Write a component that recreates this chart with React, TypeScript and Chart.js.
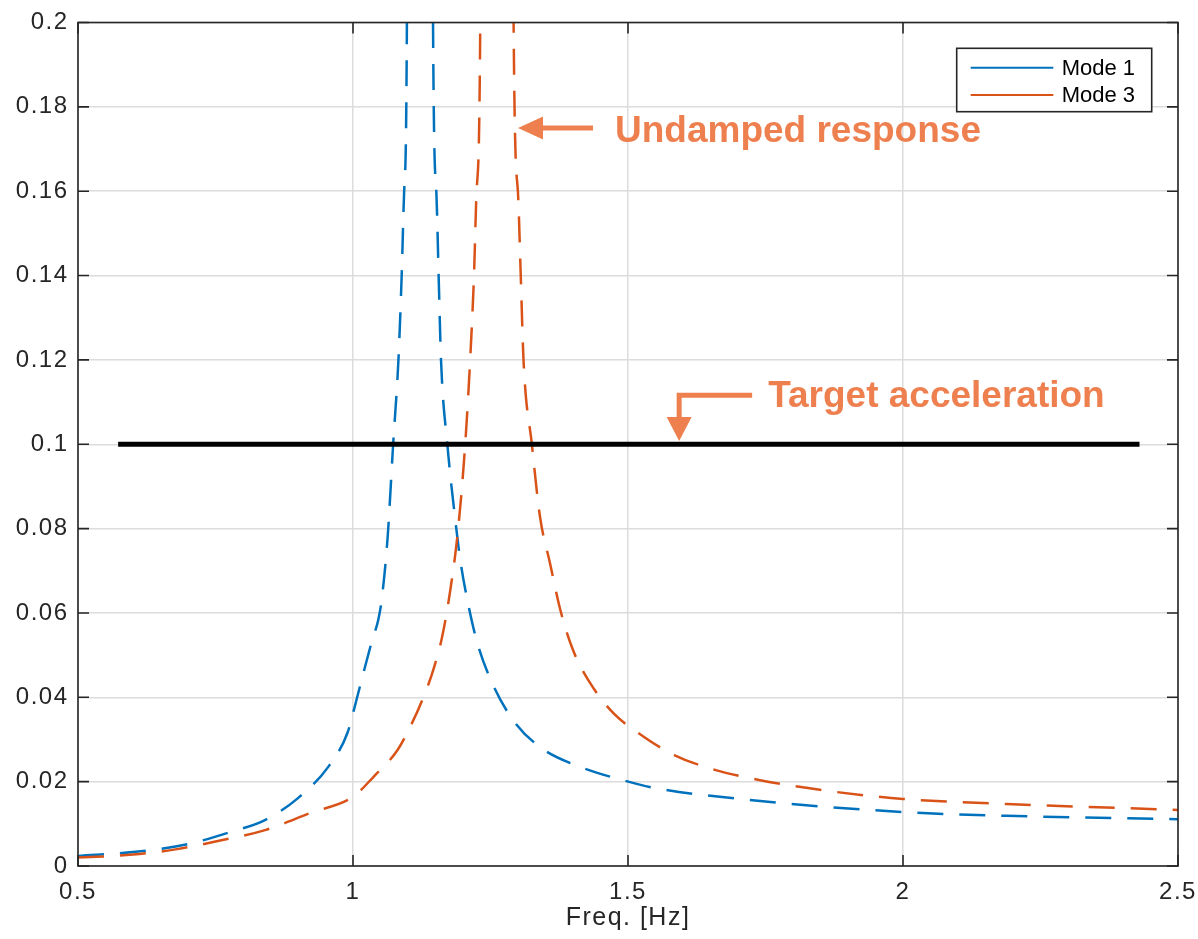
import React, { useEffect, useRef } from 'react';
import { Chart, registerables } from 'chart.js';

Chart.register(...registerables);

// ---- data ----
const freqMode1 = [0.5, 0.6, 0.7, 0.778, 0.84, 0.9, 0.955, 0.99, 1.005, 1.017, 1.035, 1.046, 1.052, 1.063, 1.073, 1.0826, 1.0885, 1.093, 1.098, 1.121, 1.1455, 1.1515, 1.1557, 1.16, 1.1715, 1.186, 1.195, 1.208, 1.226, 1.253, 1.291, 1.34, 1.413, 1.495, 1.549, 1.718, 2.0, 2.188, 2.5];
const accMode1 = [0.0024, 0.0033, 0.0052, 0.0081, 0.0109, 0.0161, 0.0235, 0.0316, 0.0387, 0.0448, 0.0536, 0.0584, 0.063, 0.078, 0.1, 0.12, 0.14, 0.16, 0.2, 2.0, 0.2, 0.16, 0.14, 0.12, 0.1, 0.082, 0.0726, 0.063, 0.0529, 0.0434, 0.0346, 0.0282, 0.0235, 0.0202, 0.0185, 0.0157, 0.0128, 0.0119, 0.0111];

const freqMode3 = [0.5, 0.6, 0.68, 0.75, 0.84, 0.923, 1.0, 1.037, 1.081, 1.104, 1.128, 1.146, 1.162, 1.177, 1.191, 1.204, 1.213, 1.22, 1.2247, 1.2314, 1.261, 1.292, 1.2998, 1.305, 1.31, 1.3252, 1.34, 1.358, 1.377, 1.4, 1.431, 1.473, 1.516, 1.584, 1.658, 1.738, 1.852, 2.0, 2.188, 2.5];
const accMode3 = [0.002, 0.0027, 0.004, 0.0058, 0.0085, 0.0126, 0.0164, 0.0211, 0.0275, 0.033, 0.04, 0.0465, 0.0543, 0.0655, 0.0797, 0.1, 0.12, 0.14, 0.16, 0.2, 2.0, 0.2, 0.16, 0.14, 0.12, 0.1, 0.0828, 0.0719, 0.0607, 0.0512, 0.0434, 0.0363, 0.0318, 0.0263, 0.0228, 0.0204, 0.018, 0.0159, 0.0147, 0.0133];

const targetFreq = [0.573, 2.43];
const targetAcc = [0.1, 0.1];

const seriesNames = ['Mode 1', 'Mode 3'];
const xTickValues = [0.5, 1, 1.5, 2, 2.5];
const xTickLabels = ['0.5', '1', '1.5', '2', '2.5'];
const yTickValues = [0, 0.02, 0.04, 0.06, 0.08, 0.1, 0.12, 0.14, 0.16, 0.18, 0.2];
const yTickLabels = ['0', '0.02', '0.04', '0.06', '0.08', '0.1', '0.12', '0.14', '0.16', '0.18', '0.2'];
const xAxisTitle = 'Freq. [Hz]';
const noteUndamped = 'Undamped response';
const noteTarget = 'Target acceleration';

const BLUE = '#0072BD';
const ORANGE = '#D95319';
const NOTE = '#EE8050';
const AXIS = '#262626';

const toPoints = (xs: number[], ys: number[]) => xs.map((x, i) => ({ x, y: ys[i] }));

const spacingPlugin = {
  id: 'spacing',
  beforeDraw(chart: any) {
    (chart.ctx as any).letterSpacing = '1.5px';
  },
};

const overlayPlugin = {
  id: 'overlay',
  afterDraw(chart: any) {
    const { ctx, chartArea } = chart;
    const xs = chart.scales.x;
    const ys = chart.scales.y;
    const { left, right, top, bottom } = chartArea;
    ctx.save();
    (ctx as any).letterSpacing = '0px';

    // box + inward ticks
    ctx.strokeStyle = AXIS;
    ctx.lineWidth = 1.6;
    ctx.strokeRect(left, top, right - left, bottom - top);
    const tl = 11;
    ctx.beginPath();
    xTickValues.forEach((v) => {
      const px = xs.getPixelForValue(v);
      ctx.moveTo(px, bottom);
      ctx.lineTo(px, bottom - tl);
      ctx.moveTo(px, top);
      ctx.lineTo(px, top + tl);
    });
    yTickValues.forEach((v) => {
      const py = ys.getPixelForValue(v);
      ctx.moveTo(left, py);
      ctx.lineTo(left + tl, py);
      ctx.moveTo(right, py);
      ctx.lineTo(right - tl, py);
    });
    ctx.stroke();

    // legend
    const lx = right - 221.3;
    const ly = top + 25.8;
    const lw = 195;
    const lh = 63.4;
    ctx.fillStyle = '#ffffff';
    ctx.fillRect(lx, ly, lw, lh);
    ctx.strokeStyle = AXIS;
    ctx.lineWidth = 1.6;
    ctx.strokeRect(lx, ly, lw, lh);
    const rows = [
      { name: seriesNames[0], color: BLUE, y: ly + 19.4 },
      { name: seriesNames[1], color: ORANGE, y: ly + 46.7 },
    ];
    ctx.font = '22px "Liberation Sans", Arial, sans-serif';
    ctx.textBaseline = 'middle';
    ctx.textAlign = 'left';
    rows.forEach((r) => {
      ctx.strokeStyle = r.color;
      ctx.lineWidth = 2;
      ctx.beginPath();
      ctx.moveTo(lx + 14, r.y);
      ctx.lineTo(lx + 96.6, r.y);
      ctx.stroke();
      ctx.fillStyle = '#000000';
      ctx.fillText(r.name, lx + 105, r.y + 1);
    });

    // annotation: undamped response
    ctx.strokeStyle = NOTE;
    ctx.fillStyle = NOTE;
    ctx.lineWidth = 5;
    ctx.lineCap = 'butt';
    const tipX = xs.getPixelForValue(1.3);
    const tipY = ys.getPixelForValue(0.175);
    ctx.beginPath();
    ctx.moveTo(tipX + 20, tipY);
    ctx.lineTo(tipX + 75, tipY);
    ctx.stroke();
    ctx.beginPath();
    ctx.moveTo(tipX, tipY);
    ctx.lineTo(tipX + 25, tipY - 11.5);
    ctx.lineTo(tipX + 25, tipY + 11.5);
    ctx.closePath();
    ctx.fill();
    ctx.font = 'bold 37px "Liberation Sans", Arial, sans-serif';
    ctx.textBaseline = 'alphabetic';
    ctx.fillText(noteUndamped, tipX + 97, tipY + 13.7);

    // annotation: target acceleration
    const tX = xs.getPixelForValue(1.593);
    const tTip = ys.getPixelForValue(0.1) - 3.3;
    const cornerY = tTip - 45.7;
    ctx.beginPath();
    ctx.moveTo(tX + 73, cornerY);
    ctx.lineTo(tX - 2.5, cornerY);
    ctx.moveTo(tX, cornerY - 2.5);
    ctx.lineTo(tX, tTip - 20);
    ctx.stroke();
    ctx.beginPath();
    ctx.moveTo(tX, tTip);
    ctx.lineTo(tX - 12.5, tTip - 24);
    ctx.lineTo(tX + 12.5, tTip - 24);
    ctx.closePath();
    ctx.fill();
    ctx.fillText(noteTarget, tX + 89, cornerY + 11.7);

    ctx.restore();
  },
};

export default function App() {
  const canvasRef = useRef<HTMLCanvasElement | null>(null);

  useEffect(() => {
    if (!canvasRef.current) return;
    const tickFont = { family: '"Liberation Sans", Arial, sans-serif', size: 24 };
    const chart = new Chart(canvasRef.current, {
      type: 'line',
      data: {
        datasets: [
          {
            label: 'Target',
            data: toPoints(targetFreq, targetAcc),
            borderColor: '#000000',
            borderWidth: 5,
            pointRadius: 0,
            order: 0,
          },
          {
            label: seriesNames[1],
            data: toPoints(freqMode3, accMode3),
            borderColor: ORANGE,
            borderWidth: 2.5,
            borderDash: [26, 16],
            pointRadius: 0,
            cubicInterpolationMode: 'monotone',
            clip: 0,
            order: 1,
          },
          {
            label: seriesNames[0],
            data: toPoints(freqMode1, accMode1),
            borderColor: BLUE,
            borderWidth: 2.5,
            borderDash: [26, 16],
            pointRadius: 0,
            cubicInterpolationMode: 'monotone',
            clip: 0,
            order: 2,
          },
        ],
      },
      options: {
        responsive: false,
        animation: false,
        events: [],
        layout: { padding: { top: 22.5, right: 20, left: 0, bottom: 0 } },
        plugins: { legend: { display: false }, tooltip: { enabled: false } },
        scales: {
          x: {
            type: 'linear',
            min: 0.5,
            max: 2.5,
            afterFit: (s: any) => {
              s.height = 73;
              s.paddingLeft = 0;
              s.paddingRight = 0;
            },
            afterBuildTicks: (s: any) => {
              s.ticks = xTickValues.map((v) => ({ value: v }));
            },
            ticks: {
              callback: (_v: any, i: number) => xTickLabels[i],
              color: AXIS,
              font: tickFont,
              padding: 12,
              maxRotation: 0,
              autoSkip: false,
            },
            grid: { color: '#dcdcdc', lineWidth: 1.5, drawTicks: false },
            border: { display: false },
            title: {
              display: true,
              text: xAxisTitle,
              color: AXIS,
              font: { family: '"Liberation Sans", Arial, sans-serif', size: 25 },
              padding: { top: 0, bottom: 6 },
            },
          },
          y: {
            type: 'linear',
            min: 0,
            max: 0.2,
            afterFit: (s: any) => {
              s.width = 78;
              s.paddingTop = 0;
              s.paddingBottom = 0;
            },
            afterBuildTicks: (s: any) => {
              s.ticks = yTickValues.map((v) => ({ value: v }));
            },
            ticks: {
              callback: (_v: any, i: number) => yTickLabels[i],
              color: AXIS,
              font: tickFont,
              padding: 9.5,
              autoSkip: false,
            },
            grid: { color: '#dcdcdc', lineWidth: 1.5, drawTicks: false },
            border: { display: false },
          },
        },
      },
      plugins: [spacingPlugin, overlayPlugin],
    } as any);
    return () => chart.destroy();
  }, []);

  return (
    <div style={{ position: 'absolute', left: 0, top: 0, width: 1198, height: 939, background: '#ffffff' }}>
      <canvas ref={canvasRef} width={1198} height={939} style={{ display: 'block', width: 1198, height: 939 }} />
    </div>
  );
}
